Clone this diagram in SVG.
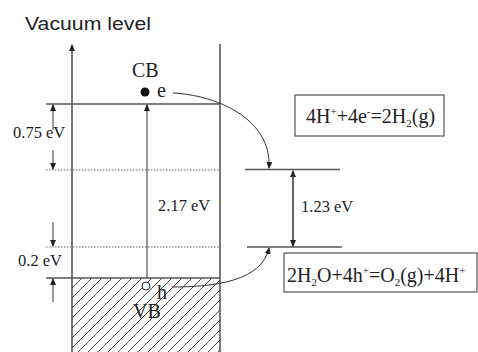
<svg xmlns="http://www.w3.org/2000/svg" width="478" height="352" viewBox="0 0 478 352">
<style>
.ln{stroke:#333;stroke-width:1.3;fill:none}
.thin{stroke:#333;stroke-width:1;fill:none}
.dot{stroke:#666;stroke-width:1;stroke-dasharray:1.5 1.5;fill:none}
.lvl{stroke:#555;stroke-width:1.3;fill:none}
.t{font-family:"Liberation Serif","Times New Roman",serif;fill:#222}
.s{font-size:11px}
</style>
<defs>
<marker id="ah" markerWidth="7" markerHeight="6" refX="6" refY="3" orient="auto" markerUnits="userSpaceOnUse">
<path d="M0,0 L7,3 L0,6 Z" fill="#222"/>
</marker>
<pattern id="hatch" width="10" height="10" patternUnits="userSpaceOnUse" x="72" y="278">
<path d="M-1,11 L11,-1 M-6,6 L6,-6 M4,16 L16,4" stroke="#333" stroke-width="0.9"/>
</pattern>
</defs>
<text x="25" y="30" font-family="Liberation Sans,Arial,sans-serif" font-size="17.5" fill="#222" textLength="126" lengthAdjust="spacingAndGlyphs">Vacuum level</text>
<g id="semiconductor">
<rect x="72" y="278" width="148" height="74" fill="url(#hatch)"/>
<line class="ln" x1="72" y1="352" x2="72" y2="45" marker-end="url(#ah)"/>
<line class="ln" x1="220" y1="44" x2="220" y2="352"/>
<line class="lvl" x1="46" y1="104" x2="220" y2="104"/>
<line class="lvl" x1="46" y1="278" x2="220" y2="278"/>
<line class="dot" x1="46" y1="170" x2="220" y2="170"/>
<line class="dot" x1="46" y1="247" x2="220" y2="247"/>
</g>
<g id="cb-label"><text class="t" x="132" y="77" font-size="20">CB</text></g>
<g id="electron"><circle cx="145" cy="92" r="4.5" fill="#111"/><text class="t" x="157" y="97" font-size="20">e</text></g>
<g id="hole"><circle cx="146" cy="286" r="4" fill="#fff" stroke="#222" stroke-width="1"/><text class="t" x="157" y="299" font-size="20">h</text></g>
<g id="vb-label"><text class="t" x="133" y="318" font-size="20">VB</text></g>
<g id="labels">
<text class="t" x="13" y="138" font-size="16.5">0.75 eV</text>
<text class="t" x="18" y="266" font-size="16.5">0.2 eV</text>
<text class="t" x="158" y="211" font-size="16.5">2.17 eV</text>
<text class="t" x="301" y="212" font-size="16.5">1.23 eV</text>
</g>
<g id="redox-levels">
<line class="lvl" x1="245" y1="169.5" x2="340" y2="169.5"/>
<line class="lvl" x1="247" y1="247" x2="342" y2="247"/>
</g>
<g id="eq1">
<rect x="295" y="95" width="149" height="41" fill="#fff" stroke="#555" stroke-width="1.2"/>
<text class="t" x="306" y="123" font-size="20">4H<tspan class="s" dy="-8">+</tspan><tspan dy="8">+4e</tspan><tspan class="s" dy="-8">-</tspan><tspan dy="8">=2H</tspan><tspan class="s" dy="4">2</tspan><tspan dy="-4">(g)</tspan></text>
</g>
<g id="eq2">
<rect x="284" y="253" width="193" height="39" fill="#fff" stroke="#555" stroke-width="1.2"/>
<text class="t" x="287" y="282" font-size="20">2H<tspan class="s" dy="4">2</tspan><tspan dy="-4">O+4h</tspan><tspan class="s" dy="-8">+</tspan><tspan dy="8">=O</tspan><tspan class="s" dy="4">2</tspan><tspan dy="-4">(g)+4H</tspan><tspan class="s" dy="-8">+</tspan></text>
</g>
<g id="connectors">
<line class="thin" x1="53" y1="130" x2="53" y2="105" marker-end="url(#ah)"/>
<line class="thin" x1="53" y1="150" x2="53" y2="169" marker-end="url(#ah)"/>
<line class="thin" x1="53" y1="222" x2="53" y2="246" marker-end="url(#ah)"/>
<line class="thin" x1="53" y1="302" x2="53" y2="279" marker-end="url(#ah)"/>
<line class="thin" x1="147" y1="278" x2="147" y2="105" marker-end="url(#ah)"/>
<line class="thin" x1="293" y1="246" x2="293" y2="171" marker-end="url(#ah)"/>
<line class="thin" x1="293" y1="171" x2="293" y2="246" marker-end="url(#ah)"/>
<path class="thin" d="M173,93 C215,95 272,118 269,168" marker-end="url(#ah)"/>
<path class="thin" d="M172,287 C215,287 262,281 269,248" marker-end="url(#ah)"/>
</g>
</svg>
